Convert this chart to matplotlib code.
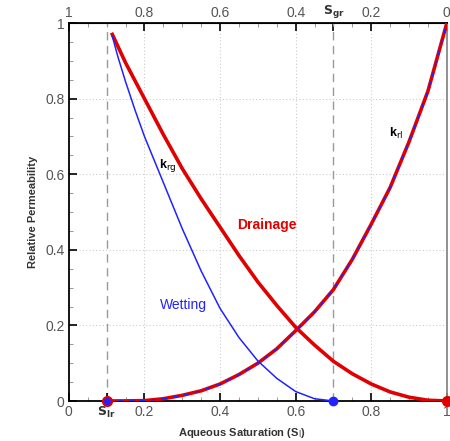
import matplotlib
matplotlib.use("Agg")
import matplotlib.pyplot as plt
import numpy as np

plt.rcParams["font.family"] = ["Liberation Sans", "DejaVu Sans"]

# aqueous relative permeability (same for drainage and wetting)
sat_l = [0.1, 0.15, 0.2, 0.25, 0.3, 0.35, 0.4, 0.45, 0.5, 0.55, 0.6,
         0.65, 0.7, 0.75, 0.8, 0.85, 0.9, 0.95, 1.0]
krl = [0.0, 0.0003, 0.001, 0.006, 0.015, 0.027, 0.045, 0.07, 0.10, 0.138,
       0.186, 0.236, 0.295, 0.375, 0.468, 0.565, 0.686, 0.82, 1.0]

# gas relative permeability, drainage path
sat_drain = [0.115, 0.15, 0.2, 0.25, 0.3, 0.35, 0.4, 0.45, 0.5, 0.55, 0.6,
             0.65, 0.7, 0.75, 0.8, 0.85, 0.9, 0.95, 1.0]
krg_drain = [0.97, 0.895, 0.80, 0.705, 0.615, 0.535, 0.46, 0.385, 0.315,
             0.253, 0.195, 0.148, 0.105, 0.072, 0.045, 0.024, 0.01, 0.002, 0.0]

# gas relative permeability, wetting path (trapped gas at Sgr)
sat_wet = [0.115, 0.13, 0.15, 0.175, 0.2, 0.25, 0.3, 0.35, 0.4, 0.45, 0.5,
           0.55, 0.6, 0.65, 0.7]
krg_wet = [0.965, 0.91, 0.845, 0.77, 0.70, 0.578, 0.456, 0.344, 0.245,
           0.168, 0.106, 0.060, 0.025, 0.006, 0.0]

s_lr = 0.1
s_gr = 0.3

fig = plt.figure(figsize=(4.5, 4.41), dpi=100)
ax = fig.add_axes([0.153, 0.0907, 0.84, 0.857])

tick_color = "#555555"

# grid and residual saturation markers
for g in [0.2, 0.4, 0.6, 0.8]:
    ax.axvline(g, color="#cccccc", lw=0.8, ls=(0, (1, 2)), zorder=0)
    ax.axhline(g, color="#cccccc", lw=0.8, ls=(0, (1, 2)), zorder=0)
ax.axvline(s_lr, color="#999999", lw=1.0, ls=(0, (6, 4)), zorder=1)
ax.axvline(1 - s_gr, color="#999999", lw=1.0, ls=(0, (6, 4)), zorder=1)

ax.plot(sat_drain, krg_drain, color="#e00000", lw=2.6, zorder=3)
ax.plot(sat_wet, krg_wet, color="#2222ff", lw=1.1, zorder=4)
ax.plot(sat_l, krl, color="#e00000", lw=2.6, zorder=3)
ax.plot(sat_l, krl, color="#2222ff", lw=1.0, ls=(0, (4, 4)), zorder=4)

ax.plot([s_lr], [0], "o", color="#e00000", ms=7, clip_on=False, zorder=5)
ax.plot([s_lr], [0], "o", color="#2222ff", ms=4, clip_on=False, zorder=6)
ax.plot([1 - s_gr], [0], "o", color="#2222ff", ms=6, clip_on=False, zorder=6)
ax.plot([1.0], [0], "o", color="#e00000", ms=7, clip_on=False, zorder=6)

ax.text(0.262, 0.624, r"k$_{\rm rg}$", fontsize=9, fontweight="bold",
        ha="center", va="center")
ax.text(0.865, 0.709, r"k$_{\rm rl}$", fontsize=9, fontweight="bold",
        ha="center", va="center")
ax.text(0.524, 0.466, "Drainage", color="#e00000", fontsize=10,
        fontweight="bold", ha="center", va="center")
ax.text(0.302, 0.254, "Wetting", color="#2222ff", fontsize=10,
        ha="center", va="center")

ax.set_xlim(0, 1)
ax.set_ylim(0, 1)

ax.set_xticks([0, s_lr, 0.2, 0.4, 0.6, 0.8, 1.0])
ax.set_xticklabels(["0", r"$\mathbf{S_{lr}}$", "0.2", "0.4", "0.6", "0.8", "1"])
ax.set_xticks(np.arange(0.05, 1.0, 0.05), minor=True)
ax.set_yticks([0, 0.2, 0.4, 0.6, 0.8, 1.0])
ax.set_yticklabels(["0", "0.2", "0.4", "0.6", "0.8", "1"])
ax.set_yticks(np.arange(0.05, 1.0, 0.05), minor=True)
ax.tick_params(which="major", direction="in", length=6, width=1.2,
               labelsize=10, labelcolor=tick_color, pad=3)
ax.tick_params(which="minor", direction="in", length=3, width=0.6,
               color="#888888")
for lbl in ax.get_xticklabels():
    if "S" in lbl.get_text():
        lbl.set_fontsize(9)
        lbl.set_color("#333333")

# top axis in gas saturation
top = ax.secondary_xaxis("top", functions=(lambda x: 1 - x, lambda x: 1 - x))
top.set_xticks([1.0, 0.8, 0.6, 0.4, s_gr, 0.2, 0.0])
top.set_xticklabels(["1", "0.8", "0.6", "0.4", r"$\mathbf{S_{gr}}$", "0.2", "0"])
top.set_xticks(np.arange(0.05, 1.0, 0.05), minor=True)
top.tick_params(which="major", direction="in", length=6, width=1.2,
                labelsize=10, labelcolor=tick_color, pad=2)
top.tick_params(which="minor", direction="in", length=3, width=0.6,
                color="#888888")
for lbl in top.get_xticklabels():
    if "S" in lbl.get_text():
        lbl.set_fontsize(9)
        lbl.set_color("#333333")

for side in ["left", "bottom", "top", "right"]:
    ax.spines[side].set_linewidth(1.3)
ax.spines["right"].set_color("#888888")

ax.set_xlabel(r"Aqueous Saturation (S$_{\rm l}$)", fontsize=8,
              fontweight="bold", color="#333333")
ax.xaxis.set_label_coords(0.458, -0.065)
ax.set_ylabel("Relative Permeability", fontsize=8, fontweight="bold",
              color="#333333", labelpad=5)

fig.savefig("out.png", dpi=100)
